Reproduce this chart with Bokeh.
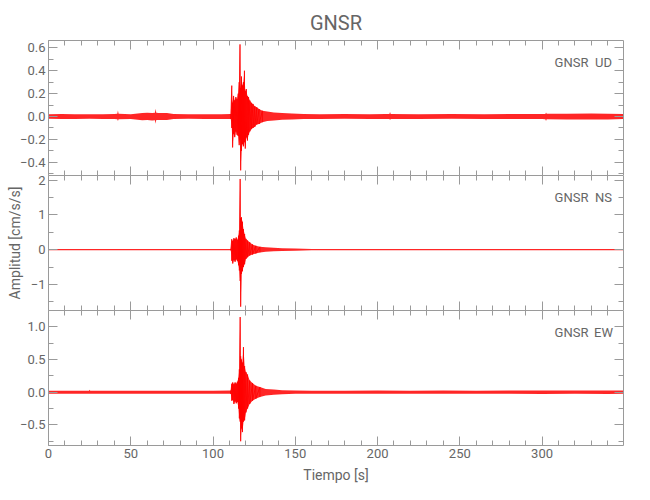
import numpy as np
from bokeh.plotting import figure
from bokeh.layouts import column
from bokeh.models import Range1d, LinearAxis, FixedTicker, Label, CustomLabelingPolicy
from bokeh.embed import file_html
from bokeh.resources import INLINE

# ---------------- data (envelopes) ----------------
station = "GNSR"
x_label = "Tiempo [s]"
y_label = "Amplitud [cm/s/s]"
t_end = 349.5
event_window = (110.5, 131.0)

x_ticks = [0, 50, 100, 150, 200, 250, 300]
x_tick_labels = ["0", "50", "100", "150", "200", "250", "300"]

# UD component
t_ud = [0, 8, 16, 25, 33, 40, 41.8, 42.2, 42.6, 50, 57, 60, 63, 64.7, 65.1, 65.5, 67, 72, 76,
        85, 95, 105,
        110.8, 111.4, 111.9, 112.5, 113.2, 113.9, 114.6, 115.3, 115.9, 116.4, 116.8, 117.3,
        117.9, 118.5, 119.1, 119.6, 120.2, 120.9, 121.6, 122.4, 123.3, 124.3, 125.4, 126.6,
        128.0, 130, 133, 137, 142, 148, 155, 165, 180, 195, 205, 207.2, 207.6, 208.0, 225,
        245, 265, 285, 300, 302.0, 302.4, 302.8, 315, 330, 340, 349.5]
ud_hi = [0.020, 0.022, 0.020, 0.021, 0.020, 0.022, 0.024, 0.052, 0.024, 0.021, 0.030, 0.034,
         0.031, 0.033, 0.067, 0.033, 0.030, 0.030, 0.022, 0.020, 0.021, 0.020,
         0.022, 0.27, 0.12, 0.18, 0.14, 0.17, 0.15, 0.20, 0.30, 0.63, 0.25, 0.35,
         0.27, 0.30, 0.40, 0.22, 0.24, 0.18, 0.17, 0.14, 0.12, 0.11, 0.09, 0.08,
         0.065, 0.05, 0.045, 0.035, 0.030, 0.026, 0.023, 0.021, 0.022, 0.021, 0.022, 0.022,
         0.040, 0.022, 0.021, 0.022, 0.021, 0.022, 0.022, 0.023, 0.035, 0.024, 0.025, 0.026,
         0.025, 0.022]
ud_lo = [-0.020, -0.021, -0.022, -0.020, -0.021, -0.022, -0.023, -0.040, -0.024, -0.021,
         -0.032, -0.030, -0.035, -0.032, -0.064, -0.031, -0.030, -0.030, -0.021, -0.020,
         -0.022, -0.021,
         -0.022, -0.10, -0.27, -0.15, -0.18, -0.13, -0.16, -0.17, -0.25, -0.20, -0.47, -0.30,
         -0.24, -0.26, -0.22, -0.28, -0.18, -0.21, -0.16, -0.13, -0.11, -0.10, -0.09, -0.07,
         -0.065, -0.05, -0.04, -0.035, -0.028, -0.025, -0.022, -0.021, -0.020, -0.022, -0.021,
         -0.022, -0.030, -0.022, -0.021, -0.020, -0.022, -0.021, -0.022, -0.023, -0.040,
         -0.024, -0.025, -0.026, -0.025, -0.022]
ud_range = (-0.515, 0.664)
ud_ticks = [-0.4, -0.2, 0.0, 0.2, 0.4, 0.6]
ud_tick_labels = ["\u22120.4", "\u22120.2", "0.0", "0.2", "0.4", "0.6"]

# NS component
t_ns = [0, 20, 40, 60, 80, 100, 110.8, 111.4, 112.0, 112.7, 113.4, 114.1, 114.8, 115.5,
        116.0, 116.5, 116.8, 117.3, 117.9, 118.5, 119.2, 120.0, 121.0, 122.3, 124.0, 126.0,
        128.5, 132, 137, 142, 150, 160, 180, 200, 220, 240, 260, 280, 300, 320, 340, 349.5]
ns_hi = [0.015, 0.016, 0.015, 0.016, 0.015, 0.016, 0.02, 0.30, 0.25, 0.33, 0.30, 0.35, 0.28,
         0.40, 0.55, 2.03, 0.90, 0.93, 0.80, 0.59, 0.45, 0.31, 0.26, 0.21, 0.15, 0.11,
         0.08, 0.07, 0.05, 0.04, 0.03, 0.02, 0.016, 0.015, 0.016, 0.015, 0.016, 0.015,
         0.016, 0.017, 0.018, 0.016]
ns_lo = [-0.015, -0.015, -0.016, -0.015, -0.016, -0.015, -0.02, -0.32, -0.40, -0.30, -0.35,
         -0.28, -0.33, -0.45, -0.60, -0.90, -1.64, -0.70, -0.62, -0.50, -0.42, -0.27, -0.22,
         -0.17, -0.14, -0.11, -0.08, -0.06, -0.045, -0.04, -0.03, -0.02, -0.016, -0.015,
         -0.016, -0.015, -0.016, -0.015, -0.016, -0.017, -0.018, -0.016]
ns_range = (-1.75, 2.13)
ns_ticks = [-1, 0, 1, 2]
ns_tick_labels = ["\u22121", "0", "1", "2"]

# EW component
t_ew = [0, 10, 20, 24.6, 25, 25.4, 30, 45, 60, 75, 90, 100, 110.8, 111.4, 112.0, 112.7,
        113.4, 114.1, 114.8, 115.5, 116.0, 116.5, 116.8, 117.3, 117.9, 118.5, 119.2, 120.0,
        121.0, 122.3, 124.0, 126.0, 128.5, 132, 137, 142, 150, 160, 180, 200, 220, 240,
        260, 280, 300, 320, 340, 349.5]
ew_hi = [0.022, 0.024, 0.023, 0.024, 0.036, 0.024, 0.024, 0.023, 0.024, 0.023, 0.024, 0.023,
         0.025, 0.13, 0.15, 0.12, 0.15, 0.13, 0.16, 0.22, 0.35, 1.15, 0.55, 0.50, 0.45, 0.69,
         0.40, 0.31, 0.27, 0.18, 0.14, 0.10, 0.08, 0.05, 0.04, 0.03, 0.028, 0.024, 0.024,
         0.025, 0.024, 0.025, 0.024, 0.025, 0.026, 0.025, 0.027, 0.025]
ew_lo = [-0.022, -0.023, -0.024, -0.023, -0.024, -0.024, -0.023, -0.024, -0.023, -0.024,
         -0.023, -0.024, -0.025, -0.13, -0.12, -0.18, -0.14, -0.17, -0.15, -0.25, -0.40,
         -0.45, -0.75, -0.55, -0.61, -0.45, -0.43, -0.31, -0.25, -0.18, -0.13, -0.10,
         -0.075, -0.05, -0.04, -0.03, -0.025, -0.024, -0.024, -0.025, -0.024, -0.025,
         -0.024, -0.025, -0.026, -0.025, -0.027, -0.025]
ew_range = (-0.815, 1.25)
ew_ticks = [-0.5, 0.0, 0.5, 1.0]
ew_tick_labels = ["\u22120.5", "0.0", "0.5", "1.0"]

# ---------------- styling ----------------
FONT = "Roboto"
AX = "#9a9a9a"
TXT = "#666666"
RED = "#ff0000"
LEFT, RIGHT = 48, 27
FW, FH = 575, 135
TOP1, BOT3, OV = 40, 50, 8
NO_LABELS = "return new indices.constructor(indices.size)"


def style_axis(ax, ticks, minor, labels=None):
    ax.ticker = FixedTicker(ticks=ticks, minor_ticks=minor)
    ax.axis_line_color = AX
    ax.major_tick_line_color = AX
    ax.minor_tick_line_color = AX
    ax.major_tick_out = 0
    ax.minor_tick_out = 0
    ax.major_tick_in = 9
    ax.minor_tick_in = 5
    if labels is None:
        ax.major_label_text_font_size = "0px"
        ax.major_label_standoff = 0
        ax.major_label_policy = CustomLabelingPolicy(code=NO_LABELS)
    else:
        ax.major_label_overrides = dict(zip(ticks, labels))
        ax.major_label_text_font = FONT
        ax.major_label_text_font_size = "13px"
        ax.major_label_text_color = TXT
        ax.major_label_standoff = 3


def panel(t, hi, lo, yr, yticks, ylabels, yminor, comp, top, bottom, xlabels, ylab=None):
    p = figure(width=LEFT + FW + RIGHT, height=top + FH + bottom,
               x_range=Range1d(0, t_end), y_range=Range1d(*yr),
               output_backend="svg", toolbar_location=None,
               x_axis_location=None, y_axis_location=None,
               min_border_left=LEFT, min_border_right=RIGHT,
               min_border_top=top, min_border_bottom=bottom)
    p.outline_line_color = None
    p.grid.grid_line_color = None
    p.background_fill_color = "white"
    xminor = list(range(0, 350, 10))
    bx = LinearAxis()
    style_axis(bx, x_ticks, xminor, x_tick_labels if xlabels else None)
    if xlabels:
        bx.axis_label = x_label
        bx.axis_label_text_font = FONT
        bx.axis_label_text_font_size = "14px"
        bx.axis_label_text_font_style = "normal"
        bx.axis_label_text_color = TXT
        bx.axis_label_standoff = 6
    p.add_layout(bx, "below")
    ax_ = LinearAxis()
    style_axis(ax_, x_ticks, xminor, None)
    p.add_layout(ax_, "above")
    ly = LinearAxis()
    style_axis(ly, yticks, yminor, ylabels)
    if ylab:
        ly.axis_label = ylab
        ly.axis_label_text_font = FONT
        ly.axis_label_text_font_size = "14px"
        ly.axis_label_text_font_style = "normal"
        ly.axis_label_text_color = TXT
        ly.axis_label_standoff = 5
    p.add_layout(ly, "left")
    ry = LinearAxis()
    style_axis(ry, yticks, yminor, None)
    p.add_layout(ry, "right")

    t_a, hi_a, lo_a = np.asarray(t), np.asarray(hi), np.asarray(lo)
    # filled envelope
    p.varea(x=t_a, y1=lo_a, y2=hi_a, fill_color=RED, fill_alpha=0.85)
    # zig-zag through the same extremes inside the event for a trace-like texture
    m = (t_a >= event_window[0]) & (t_a <= event_window[1])
    p.line(x=np.repeat(t_a[m], 2), y=np.column_stack([hi_a[m], lo_a[m]]).ravel(),
           line_color=RED, line_width=0.8)

    for txt, dx in ((station, -52), (comp, -20)):
        p.add_layout(Label(x=t_end, y=yr[1], x_offset=dx, y_offset=-22, text=txt,
                           text_align="center", text_baseline="middle",
                           text_font=FONT, text_font_size="13px", text_color=TXT))
    return p


p1 = panel(t_ud, ud_hi, ud_lo, ud_range, ud_ticks, ud_tick_labels,
           [round(v, 1) for v in np.arange(-0.5, 0.65, 0.1)], "UD", TOP1, 0, False)
p1.title.text = station
p1.title.align = "center"
p1.title.text_font = FONT
p1.title.text_font_size = "20px"
p1.title.text_font_style = "normal"
p1.title.text_color = TXT
p1.title.standoff = 12

p2 = panel(t_ns, ns_hi, ns_lo, ns_range, ns_ticks, ns_tick_labels,
           [-1.5, -1, -0.5, 0, 0.5, 1, 1.5, 2], "NS", OV, 0, False, ylab=y_label)
p2.border_fill_alpha = 0
p2.styles = {"margin-top": f"-{OV}px"}

p3 = panel(t_ew, ew_hi, ew_lo, ew_range, ew_ticks, ew_tick_labels,
           [-0.75, -0.5, -0.25, 0, 0.25, 0.5, 0.75, 1.0], "EW", 0, BOT3, True)

layout = column(p1, p2, p3, spacing=0)
open("out.html", "w").write(file_html(layout, INLINE))
